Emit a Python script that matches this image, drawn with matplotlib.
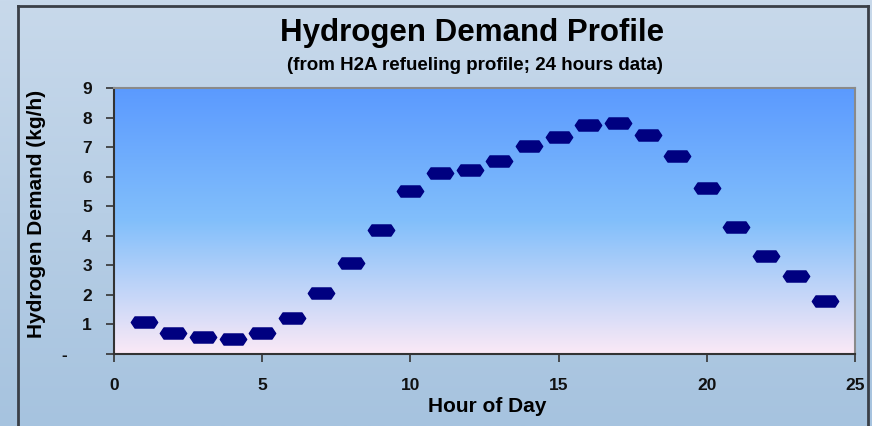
import numpy as np
import matplotlib
matplotlib.use("Agg")
import matplotlib.pyplot as plt
from matplotlib.path import Path
from matplotlib.colors import LinearSegmentedColormap
from matplotlib.lines import Line2D

hours = list(range(1, 25))
demand = [1.09, 0.70, 0.59, 0.50, 0.70, 1.21, 2.07, 3.08, 4.19, 5.51, 6.12, 6.22,
          6.53, 7.04, 7.34, 7.75, 7.81, 7.41, 6.70, 5.62, 4.30, 3.32, 2.63, 1.81]
y_ticks = [0, 1, 2, 3, 4, 5, 6, 7, 8, 9]
y_tick_labels = ['-     ', '1', '2', '3', '4', '5', '6', '7', '8', '9']
x_ticks = [0, 5, 10, 15, 20, 25]
x_tick_labels = ['0', '5', '10', '15', '20', '25']

title = "Hydrogen Demand Profile"
subtitle = "(from H2A refueling profile; 24 hours data)"
xlabel = "Hour of Day"
ylabel = "Hydrogen Demand (kg/h)"

plt.rcParams['font.family'] = ['Liberation Sans', 'DejaVu Sans']

W, H = 872, 426
fig = plt.figure(figsize=(W / 100, H / 100), dpi=100)

# figure background gradient
bg = fig.add_axes([0, 0, 1, 1], zorder=-10)
bg_cmap = LinearSegmentedColormap.from_list('bg', ['#c8d9eb', '#a6c3df'])
bg.imshow(np.linspace(0, 1, 256).reshape(-1, 1), aspect='auto', cmap=bg_cmap,
          extent=[0, 1, 0, 1])
bg.set_xlim(0, 1)
bg.set_ylim(0, 1)
bg.axis('off')

# chart area border
def px(x, y):
    return x / W, 1 - y / H

bx0, by0 = px(18, 6)
bx1, _ = px(868, 6)
for xs, ys in [([bx0, bx1], [by0, by0]), ([bx0, bx0], [by0, -0.1]), ([bx1, bx1], [by0, -0.1])]:
    fig.add_artist(Line2D(xs, ys, transform=fig.transFigure, color='#3a3f47', lw=2.0))

# plot area
left, bottom = px(114, 354)
right, top = px(855, 88)
ax = fig.add_axes([left, bottom, right - left, top - bottom])
ax.set_xlim(0, 25)
ax.set_ylim(0, 9)
plot_cmap = LinearSegmentedColormap.from_list(
    'pa', [(0, '#fbe9f6'), (0.5, '#82bffb'), (1, '#5b9aff')])
ax.imshow(np.linspace(0, 1, 256).reshape(-1, 1), aspect='auto', cmap=plot_cmap,
          extent=[0, 25, 0, 9], origin='lower', zorder=0)

# dash-like hexagon marker
verts = [(-1, 0), (-0.72, 0.42), (0.72, 0.42), (1, 0), (0.72, -0.42), (-0.72, -0.42), (-1, 0)]
codes = [Path.MOVETO] + [Path.LINETO] * 5 + [Path.CLOSEPOLY]
hexm = Path(verts, codes)
ax.plot(hours, demand, linestyle='none', marker=hexm, markersize=19,
        color='#000080', markeredgecolor='#000080', zorder=3)

ax.set_xticks(x_ticks)
ax.set_xticklabels(x_tick_labels, fontweight='bold')
ax.set_yticks(y_ticks)
ax.set_yticklabels(y_tick_labels, fontweight='bold')
ax.tick_params(axis='both', direction='out', length=6, width=1.2, color='#333333',
               labelsize=12.5, labelcolor='#111111')
ax.tick_params(axis='y', pad=10)
ax.tick_params(axis='x', pad=11)
for s in ['left', 'bottom']:
    ax.spines[s].set_color('#333333')
    ax.spines[s].set_linewidth(1.5)
for s in ['top', 'right']:
    ax.spines[s].set_color('#8a8a8a')
    ax.spines[s].set_linewidth(1.5)

fig.text(487 / W, 1 - 407 / H, xlabel, ha='center', va='center',
         fontsize=15, fontweight='bold')
fig.text(37 / W, 1 - 214 / H, ylabel, rotation=90, ha='center', va='center',
         fontsize=15, fontweight='bold')
fig.text(472 / W, 1 - 33 / H, title, ha='center', va='center', fontsize=22.5,
         fontweight='bold')
fig.text(475 / W, 1 - 66 / H, subtitle, ha='center', va='center', fontsize=13.5,
         fontweight='bold')

fig.savefig('out.png', dpi=100)
